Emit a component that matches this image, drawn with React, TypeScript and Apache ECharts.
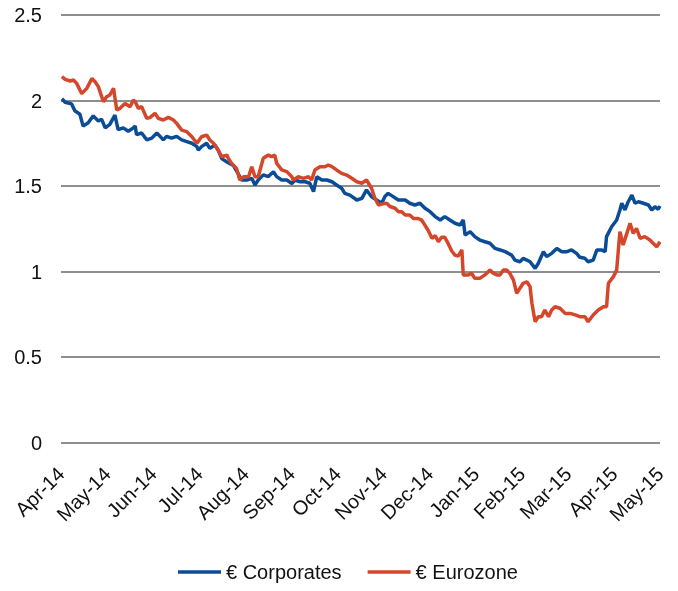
import React, { useEffect, useRef } from "react";
import * as echarts from "echarts";

const monthLabels = ["Apr-14","May-14","Jun-14","Jul-14","Aug-14","Sep-14","Oct-14","Nov-14","Dec-14","Jan-15","Feb-15","Mar-15","Apr-15","May-15"];
const yTicks = [0, 0.5, 1, 1.5, 2, 2.5];
const seriesNames = ["€ Corporates", "€ Eurozone"];

// x = months since Apr-14, y = yield (%)
const corporates: [number, number][] = [
  [0.02,2.01],[0.09,1.99],[0.23,1.98],[0.30,1.94],[0.41,1.92],[0.48,1.85],[0.59,1.87],[0.70,1.91],[0.81,1.88],[0.88,1.89],
  [0.96,1.84],[1.06,1.86],[1.17,1.915],[1.24,1.83],[1.35,1.84],[1.46,1.82],[1.57,1.84],[1.61,1.85],[1.64,1.80],[1.75,1.81],
  [1.86,1.77],[1.97,1.78],[2.08,1.81],[2.15,1.79],[2.22,1.77],[2.29,1.79],[2.40,1.78],[2.51,1.79],[2.62,1.77],[2.73,1.76],
  [2.84,1.75],[2.95,1.73],[2.98,1.71],[3.05,1.73],[3.16,1.75],[3.23,1.72],[3.34,1.74],[3.41,1.71],[3.49,1.66],[3.60,1.64],
  [3.74,1.62],[3.85,1.57],[3.92,1.535],[4.03,1.535],[4.14,1.545],[4.21,1.506],[4.28,1.535],[4.39,1.565],[4.50,1.555],[4.61,1.584],
  [4.68,1.555],[4.79,1.535],[4.90,1.535],[5.01,1.515],[5.08,1.535],[5.19,1.525],[5.30,1.525],[5.40,1.516],[5.48,1.467],[5.55,1.554],
  [5.66,1.535],[5.77,1.535],[5.88,1.525],[5.98,1.506],[6.09,1.487],[6.16,1.457],[6.27,1.447],[6.42,1.418],[6.53,1.428],[6.63,1.477],
  [6.74,1.437],[6.85,1.418],[6.96,1.399],[7.03,1.438],[7.10,1.457],[7.21,1.438],[7.32,1.418],[7.47,1.418],[7.57,1.399],[7.68,1.389],
  [7.79,1.399],[7.90,1.370],[8.01,1.350],[8.12,1.321],[8.23,1.301],[8.33,1.321],[8.44,1.301],[8.55,1.282],[8.66,1.272],[8.73,1.301],
  [8.77,1.213],[8.88,1.233],[8.98,1.204],[9.09,1.184],[9.20,1.174],[9.31,1.165],[9.42,1.135],[9.53,1.126],[9.64,1.116],[9.78,1.096],
  [9.85,1.067],[9.96,1.057],[10.03,1.077],[10.11,1.067],[10.18,1.057],[10.29,1.018],[10.36,1.048],[10.47,1.116],[10.54,1.087],[10.65,1.106],
  [10.76,1.135],[10.87,1.116],[10.98,1.116],[11.08,1.126],[11.19,1.106],[11.26,1.083],[11.37,1.077],[11.44,1.057],[11.55,1.067],[11.63,1.126],
  [11.73,1.126],[11.81,1.116],[11.84,1.204],[11.95,1.262],[12.06,1.301],[12.13,1.360],[12.17,1.399],[12.24,1.360],[12.31,1.408],[12.39,1.447],
  [12.46,1.399],[12.53,1.408],[12.64,1.399],[12.75,1.389],[12.82,1.360],[12.89,1.379],[12.96,1.364],[13.00,1.383]
];

const eurozone: [number, number][] = [
  [0.02,2.14],[0.09,2.124],[0.20,2.114],[0.27,2.12],[0.34,2.10],[0.45,2.04],[0.56,2.071],[0.67,2.129],[0.74,2.11],[0.81,2.081],
  [0.92,1.993],[0.99,2.022],[1.06,2.032],[1.14,2.071],[1.21,1.944],[1.28,1.954],[1.39,1.983],[1.50,1.964],[1.57,2.003],[1.61,1.993],
  [1.68,1.954],[1.75,1.964],[1.86,1.896],[1.93,1.90],[2.04,1.925],[2.11,1.896],[2.22,1.886],[2.33,1.901],[2.44,1.886],[2.51,1.866],
  [2.62,1.827],[2.73,1.818],[2.84,1.788],[2.95,1.75],[3.05,1.788],[3.16,1.798],[3.23,1.769],[3.31,1.75],[3.41,1.71],[3.49,1.671],
  [3.60,1.681],[3.63,1.662],[3.70,1.633],[3.81,1.603],[3.88,1.535],[3.96,1.554],[4.07,1.554],[4.14,1.613],[4.21,1.554],[4.28,1.554],
  [4.39,1.662],[4.50,1.681],[4.57,1.672],[4.64,1.681],[4.68,1.633],[4.79,1.594],[4.90,1.584],[5.01,1.554],[5.04,1.535],[5.15,1.554],
  [5.26,1.545],[5.37,1.554],[5.44,1.535],[5.51,1.594],[5.62,1.613],[5.73,1.613],[5.80,1.623],[5.88,1.613],[5.98,1.594],[6.09,1.574],
  [6.20,1.564],[6.31,1.545],[6.42,1.525],[6.53,1.516],[6.63,1.535],[6.74,1.487],[6.81,1.43],[6.89,1.389],[6.96,1.394],[7.07,1.399],
  [7.14,1.38],[7.25,1.37],[7.32,1.35],[7.39,1.35],[7.47,1.33],[7.57,1.33],[7.65,1.31],[7.75,1.31],[7.83,1.30],[7.90,1.27],
  [7.97,1.24],[8.05,1.194],[8.12,1.21],[8.19,1.174],[8.26,1.20],[8.33,1.20],[8.41,1.16],[8.48,1.12],[8.55,1.096],[8.62,1.09],
  [8.70,1.126],[8.73,0.98],[8.84,0.98],[8.91,0.99],[8.98,0.96],[9.09,0.96],[9.20,0.98],[9.31,1.009],[9.38,0.99],[9.46,0.98],
  [9.53,0.98],[9.60,1.009],[9.67,1.009],[9.74,0.99],[9.82,0.95],[9.89,0.872],[9.96,0.902],[10.03,0.931],[10.11,0.94],[10.18,0.911],
  [10.22,0.814],[10.29,0.706],[10.36,0.736],[10.43,0.736],[10.50,0.775],[10.58,0.736],[10.65,0.775],[10.72,0.794],[10.83,0.785],[10.94,0.755],
  [11.05,0.755],[11.16,0.746],[11.26,0.736],[11.37,0.736],[11.44,0.706],[11.55,0.746],[11.66,0.775],[11.77,0.794],[11.84,0.794],[11.88,0.931],
  [11.99,0.970],[12.06,1.009],[12.09,1.106],[12.13,1.233],[12.20,1.155],[12.28,1.223],[12.35,1.282],[12.42,1.223],[12.49,1.252],[12.57,1.194],
  [12.67,1.204],[12.78,1.184],[12.85,1.165],[12.93,1.145],[13.00,1.174]
];

const colors = ["#0B4C97", "#D5472B"];
const FONT = "'Liberation Sans', Arial, sans-serif";

export default function App() {
  const ref = useRef<HTMLDivElement>(null);
  useEffect(() => {
    if (!ref.current) return;
    const chart = echarts.init(ref.current, null, { renderer: "svg" });
    chart.setOption({
      animation: false,
      textStyle: { fontFamily: FONT },
      grid: { left: 61, right: 18, top: 15, bottom: 148.5, containLabel: false },
      legend: {
        left: 173,
        top: 557,
        icon: "rect",
        itemWidth: 43,
        itemHeight: 3.5,
        itemGap: 26,
        textStyle: { fontFamily: FONT, fontSize: 20, color: "#111" },
        data: seriesNames,
      },
      xAxis: {
        type: "value",
        min: 0,
        max: monthLabels.length - 1,
        interval: 1,
        axisLine: { show: false },
        axisTick: { show: false },
        splitLine: { show: false },
        axisLabel: {
          rotate: 45,
          margin: 28,
          fontFamily: FONT,
          fontSize: 20,
          color: "#111",
          showMinLabel: true,
          showMaxLabel: true,
          hideOverlap: false,
          formatter: (v: number) => monthLabels[Math.round(v)] ?? "",
        },
      },
      yAxis: {
        type: "value",
        min: yTicks[0],
        max: yTicks[yTicks.length - 1],
        interval: 0.5,
        axisLine: { show: false },
        axisTick: { show: false },
        axisLabel: { margin: 19, fontFamily: FONT, fontSize: 20, color: "#111" },
        splitLine: { lineStyle: { color: "#8E8E8E", width: 2 } },
      },
      series: [
        {
          name: seriesNames[0],
          type: "line",
          data: corporates,
          showSymbol: false,
          symbol: "none",
          lineStyle: { color: colors[0], width: 3.5 },
          itemStyle: { color: colors[0] },
        },
        {
          name: seriesNames[1],
          type: "line",
          data: eurozone,
          showSymbol: false,
          symbol: "none",
          lineStyle: { color: colors[1], width: 3.5 },
          itemStyle: { color: colors[1] },
        },
      ],
    });
    return () => chart.dispose();
  }, []);
  return <div ref={ref} style={{ position: "fixed", left: 0, top: 0, width: 678, height: 591 }} />;
}
